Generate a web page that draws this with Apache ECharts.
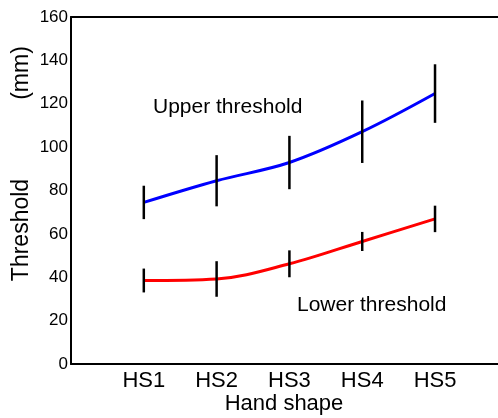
<!DOCTYPE html>
<html>
<head>
<meta charset="utf-8">
<script src="https://cdn.jsdelivr.net/npm/echarts@6/dist/echarts.min.js"></script>
<style>
  html, body { margin: 0; padding: 0; background: #fff; }
  #chart { width: 498px; height: 418px; }
</style>
</head>
<body>
<div id="chart"></div>
<script>
// hand shapes along the x axis
const categories = ['HS1', 'HS2', 'HS3', 'HS4', 'HS5']
// upper threshold: mean and half length of the error bar (mm)
const upperMean = [74.5, 84.5, 92.9, 107.1, 124.7]
const upperErr = [7.7, 11.8, 12.3, 14.4, 13.5]
// lower threshold
const lowerMean = [38.5, 39.2, 46.2, 56.5, 66.9]
const lowerErr = [5.5, 8.2, 6.2, 4.4, 6.1]
const yTicks = [0, 20, 40, 60, 80, 100, 120, 140, 160]

const font = "'Liberation Sans', Arial, Helvetica, sans-serif"

const myChart = echarts.init(document.getElementById('chart'))

function points (values) {
  return values.map((v, i) => [i + 1, v])
}

function errorBars (means, errs) {
  return means.map((m, i) => [i + 1, m - errs[i], m + errs[i]])
}

function renderBar (params, api) {
  const lo = api.coord([api.value(0), api.value(1)])
  const hi = api.coord([api.value(0), api.value(2)])
  return {
    type: 'line',
    shape: { x1: lo[0], y1: lo[1], x2: hi[0], y2: hi[1] },
    style: { stroke: '#000', lineWidth: 2.5 }
  }
}

// the frame is cut at the right edge of the picture, so no right border
const frameLine = { show: true, lineStyle: { color: '#000', width: 2 } }

const option = {
  animation: false,
  grid: {
    left: 71,
    top: 17,
    right: 0,
    bottom: 54
  },
  xAxis: [
    {
      type: 'value',
      min: 0,
      max: 5.865,
      interval: 1,
      axisLine: frameLine,
      axisTick: { show: false },
      splitLine: { show: false },
      axisLabel: {
        margin: 6,
        color: '#000',
        fontFamily: font,
        fontSize: 22,
        showMaxLabel: false,
        formatter: v => categories[v - 1] || ''
      }
    },
    {
      type: 'value',
      position: 'top',
      min: 0,
      max: 5.865,
      axisLine: frameLine,
      axisTick: { show: false },
      axisLabel: { show: false },
      splitLine: { show: false }
    }
  ],
  yAxis: {
    type: 'value',
    min: yTicks[0],
    max: yTicks[yTicks.length - 1],
    interval: 20,
    axisLine: frameLine,
    axisTick: { show: false },
    splitLine: { show: false },
    axisLabel: {
      margin: 3,
      color: '#000',
      fontFamily: font,
      fontSize: 17
    }
  },
  graphic: [
    {
      type: 'text',
      left: 153,
      top: 97,
      style: { text: 'Upper threshold', font: '21px ' + font, fill: '#000' }
    },
    {
      type: 'text',
      left: 297,
      top: 295,
      style: { text: 'Lower threshold', font: '21px ' + font, fill: '#000' }
    },
    {
      type: 'text',
      x: 284,
      y: 404,
      style: { text: 'Hand shape', font: '22px ' + font, fill: '#000', align: 'center', verticalAlign: 'middle' }
    },
    {
      type: 'text',
      x: 22,
      y: 230,
      rotation: Math.PI / 2,
      style: { text: 'Threshold', font: '23px ' + font, fill: '#000', align: 'center', verticalAlign: 'middle' }
    },
    {
      type: 'text',
      x: 22,
      y: 73,
      rotation: Math.PI / 2,
      style: { text: '(mm)', font: '23px ' + font, fill: '#000', align: 'center', verticalAlign: 'middle' }
    }
  ],
  series: [
    {
      name: 'Upper threshold',
      type: 'line',
      data: points(upperMean),
      smooth: 0.35,
      showSymbol: false,
      lineStyle: { color: '#0000ff', width: 3 },
      z: 2
    },
    {
      name: 'Lower threshold',
      type: 'line',
      data: points(lowerMean),
      smooth: 0.35,
      showSymbol: false,
      lineStyle: { color: '#ff0000', width: 3 },
      z: 2
    },
    {
      type: 'custom',
      renderItem: renderBar,
      data: errorBars(upperMean, upperErr),
      z: 3
    },
    {
      type: 'custom',
      renderItem: renderBar,
      data: errorBars(lowerMean, lowerErr),
      z: 3
    }
  ]
}

myChart.setOption(option)
</script>
</body>
</html>
